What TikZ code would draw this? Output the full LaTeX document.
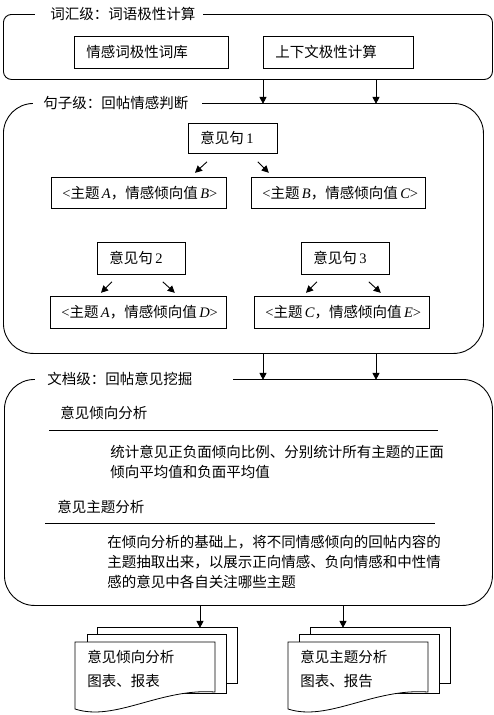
\documentclass[tikz,border=0pt]{standalone}
\usepackage{fontspec}
\setmainfont{Noto Sans CJK SC}
\newfontfamily\lat{Liberation Serif}
\usetikzlibrary{arrows.meta}
\newcommand\lv[1]{{\lat\itshape #1}}
\newcommand\lt[1]{{\lat #1}}
\newcommand\bxt[2]{\makebox[#1][l]{#2}}
\begin{document}
\begin{tikzpicture}[x=1pt,y=-1pt,
  font=\fontsize{14.5}{20}\selectfont,
  line width=0.8pt,
  big/.style={draw, line width=0.9pt, anchor=north west, inner sep=0pt},
  bx/.style={draw, anchor=north west, inner xsep=12pt, inner ysep=0pt, minimum height=31pt},
  tx/.style={draw, anchor=north west, inner xsep=11pt, inner ysep=0pt, minimum height=31pt},
  ttl/.style={fill=white, anchor=west, inner sep=0pt, minimum height=18pt},
  para/.style={anchor=north west, align=left, inner sep=0pt},
  arr/.style={-{Triangle[length=7pt,width=7pt]}, line width=0.9pt},
  docb/.style={draw, fill=white, anchor=north west, inner sep=0pt, line width=0.8pt},
  doc/.style={draw, fill=white, line width=0.8pt}]
\useasboundingbox (0,0) rectangle (494,715);

% ---------- level 1 ----------
\node[big, rounded corners=8pt, minimum width=489pt, minimum height=65pt] (B1) at (3,14) {};
\node[ttl] (T1) at (35,14) {\bxt{168pt}{\hspace{15pt}词汇级：词语极性计算}};
\node[bx, minimum height=32pt] (W1) at (74,36) {\bxt{130pt}{情感词极性词库}};
\node[bx, minimum height=32pt] (W2) at (263,36) {\bxt{126pt}{上下文极性计算}};

% ---------- level 2 ----------
\node[big, rounded corners=30pt, minimum width=480pt, minimum height=250pt] (B2) at (3,103) {};
\node[ttl] (T2) at (33,103) {\bxt{169pt}{\hspace{10pt}句子级：回帖情感判断}};
\draw[arr] ([xshift=260pt]B1.south west) -- ++(0,24);
\draw[arr] ([xshift=373pt]B1.south west) -- ++(0,24);

\node[bx, minimum height=30pt] (S1) at (188,123) {\bxt{65pt}{意见句\,\lt{1}}};
\node[tx] (TAB) at (51,177) {\bxt{153pt}{\lt{<}主题\,\lv{A}，情感倾向值\,\lv{B}\lt{>}}};
\node[tx] (TBC) at (251,177) {\bxt{152pt}{\lt{<}主题\,\lv{B}，情感倾向值\,\lv{C}\lt{>}}};
\draw[arr] ([xshift=19pt,yshift=-8pt]S1.south west) -- ([xshift=7pt,yshift=-19pt]S1.south west);
\draw[arr] ([xshift=-20pt,yshift=-8pt]S1.south east) -- ([xshift=-9pt,yshift=-19pt]S1.south east);

\node[bx, minimum height=32pt] (S2) at (97,242) {\bxt{64pt}{意见句\,\lt{2}}};
\node[bx, minimum height=32pt] (S3) at (301,242) {\bxt{64pt}{意见句\,\lt{3}}};
\node[tx, minimum height=32pt] (TAD) at (50,296) {\bxt{154pt}{\lt{<}主题\,\lv{A}，情感倾向值\,\lv{D}\lt{>}}};
\node[tx, minimum height=32pt] (TCE) at (254,296) {\bxt{153pt}{\lt{<}主题\,\lv{C}，情感倾向值\,\lv{E}\lt{>}}};
\draw[arr] ([xshift=15pt,yshift=-7pt]S2.south west) -- ([xshift=4pt,yshift=-18pt]S2.south west);
\draw[arr] ([xshift=-23pt,yshift=-7pt]S2.south east) -- ([xshift=-11pt,yshift=-18pt]S2.south east);
\draw[arr] ([xshift=16pt,yshift=-7pt]S3.south west) -- ([xshift=5pt,yshift=-18pt]S3.south west);
\draw[arr] ([xshift=-21pt,yshift=-7pt]S3.south east) -- ([xshift=-9pt,yshift=-18pt]S3.south east);

% ---------- level 3 ----------
\node[big, rounded corners=30pt, minimum width=488pt, minimum height=226pt] (B3) at (4,379) {};
\node[ttl] (T3) at (35,379) {\bxt{198pt}{\hspace{12pt}文档级：回帖意见挖掘}};
\draw[arr] ([xshift=260pt]B2.south west) -- ++(0,26);
\draw[arr] ([xshift=373pt]B2.south west) -- ++(0,26);

\node[anchor=west, inner sep=0pt] (H1) at (60,413) {意见倾向分析};
\draw (49,430) -- (438,430);
\node[para] (P1) at (110,445) {统计意见正负面倾向比例、分别统计所有主题的正面\\倾向平均值和负面平均值};
\node[anchor=west, inner sep=0pt] (H2) at (57,507) {意见主题分析};
\draw (45,523) -- (435,523);
\node[para] (P2) at (107,535) {在倾向分析的基础上，将不同情感倾向的回帖内容的\\主题抽取出来，以展示正向情感、负向情感和中性情\\感的意见中各自关注哪些主题};

% ---------- outputs ----------
\node[docb, minimum width=140pt, minimum height=56pt] (D1c) at (97,627) {};
\node[docb, minimum width=139pt, minimum height=59pt] (D1b) at (87,634) {};
\draw[doc] (75,642) -- (215,642) -- (215,692) .. controls (160,688) and (115,722) .. (75,709) -- cycle;
\node[para, font=\fontsize{14.5}{24}\selectfont] (D1) at (87,650) {意见倾向分析\\图表、报表};

\node[docb, minimum width=140pt, minimum height=56pt] (D2c) at (310,627) {};
\node[docb, minimum width=140pt, minimum height=59pt] (D2b) at (299,634) {};
\draw[doc] (288,642) -- (428,642) -- (428,692) .. controls (373,688) and (328,722) .. (288,709) -- cycle;
\node[para, font=\fontsize{14.5}{24}\selectfont] (D2) at (300,650) {意见主题分析\\图表、报告};

\draw[arr] ([xshift=196pt]B3.south west) -- ++(0,22);
\draw[arr] ([xshift=339pt]B3.south west) -- ++(0,22);
\end{tikzpicture}
\end{document}
